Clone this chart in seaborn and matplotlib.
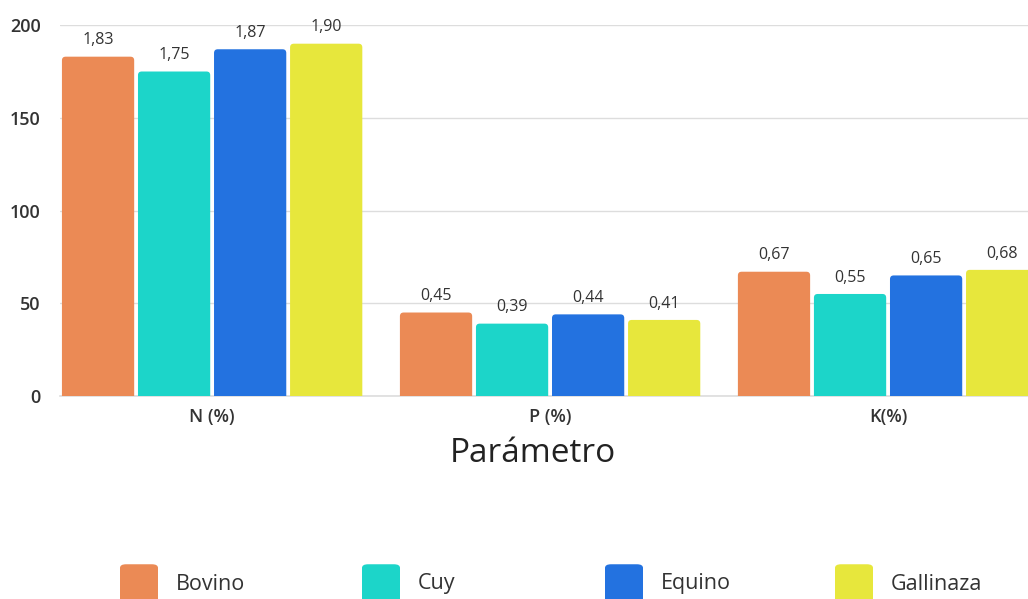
import pandas as pd
import numpy as np
import matplotlib.pyplot as plt
import seaborn as sns
from matplotlib.patches import FancyBboxPatch

# Data
parametros = ["N (%)", "P (%)", "K(%)"]
abonos = ["Bovino", "Cuy", "Equino", "Gallinaza"]
bovino = [1.83, 0.45, 0.67]
cuy = [1.75, 0.39, 0.55]
equino = [1.87, 0.44, 0.65]
gallinaza = [1.90, 0.41, 0.68]
colores = ["#EB8A55", "#1CD5C9", "#2372E0", "#E7E73C"]

df = pd.DataFrame({
    "Parámetro": parametros * 4,
    "Abono": [a for a in abonos for _ in parametros],
    "Valor": bovino + cuy + equino + gallinaza,
})
# bars are drawn on a 0-200 scale (value x 100)
df["Altura"] = df["Valor"] * 100

sns.set_style("white")
plt.rcParams['font.family'] = ['Open Sans', 'DejaVu Sans']

fig = plt.figure(figsize=(10.28, 5.99), dpi=100)
ax = fig.add_axes([0.0584, 0.339, 0.9416, 0.619])

sns.barplot(data=df, x="Parámetro", y="Altura", hue="Abono",
            palette=colores, saturation=1, width=0.9, gap=0.05, ax=ax,
            edgecolor="none", legend=False, zorder=3)

ax.set_ylim(0, 200)
ax.set_xlim(-0.45, 2.414)

# swap plain bars for ones with rounded top corners
for cont in ax.containers:
    for bar in cont:
        x, w, h = bar.get_x(), bar.get_width(), bar.get_height()
        bar.set_visible(False)
        ax.add_patch(FancyBboxPatch((x, -3), w, h + 3,
                                    boxstyle="round,pad=0,rounding_size=0.011",
                                    mutation_aspect=182, fc=bar.get_facecolor(),
                                    ec="none", zorder=3))

# value labels with decimal comma
for cont, abono in zip(ax.containers, abonos):
    vals = df[df["Abono"] == abono]["Valor"]
    ax.bar_label(cont, labels=[f"{v:.2f}".replace(".", ",") for v in vals],
                 padding=6, fontsize=11.5, color="#333333")

ax.set_yticks([0, 50, 100, 150, 200])
ax.grid(axis="y", color="#DDDDDD", linewidth=1, zorder=0)
ax.set_axisbelow(True)
for s in ["top", "right", "left"]:
    ax.spines[s].set_visible(False)
ax.spines["bottom"].set_color("#DDDDDD")
ax.spines["bottom"].set_linewidth(1.2)
ax.tick_params(axis="both", length=0, labelsize=13, colors="#333333")
ax.tick_params(axis="y", pad=14)
ax.tick_params(axis="x", pad=9)
for t in ax.get_xticklabels() + ax.get_yticklabels():
    t.set_fontweight("semibold")
ax.set_ylabel("")
ax.set_xlabel("Parámetro", fontsize=24, color="#222222")
ax.xaxis.set_label_coords(0.489, -0.112)

# legend at the bottom, fixed-width columns
leg_x = [120, 362, 605, 835]
for xp, c, nombre in zip(leg_x, colores, abonos):
    fig.patches.append(FancyBboxPatch((xp / 1028, -0.02), 38 / 1028, 0.078,
                                      boxstyle="round,pad=0,rounding_size=0.006",
                                      transform=fig.transFigure, fc=c, ec="none"))
    fig.text((xp + 56) / 1028, 15 / 599, nombre, fontsize=15.5, color="#333333",
             va="center", ha="left", fontweight="medium")

fig.savefig("out.png", dpi=100)
